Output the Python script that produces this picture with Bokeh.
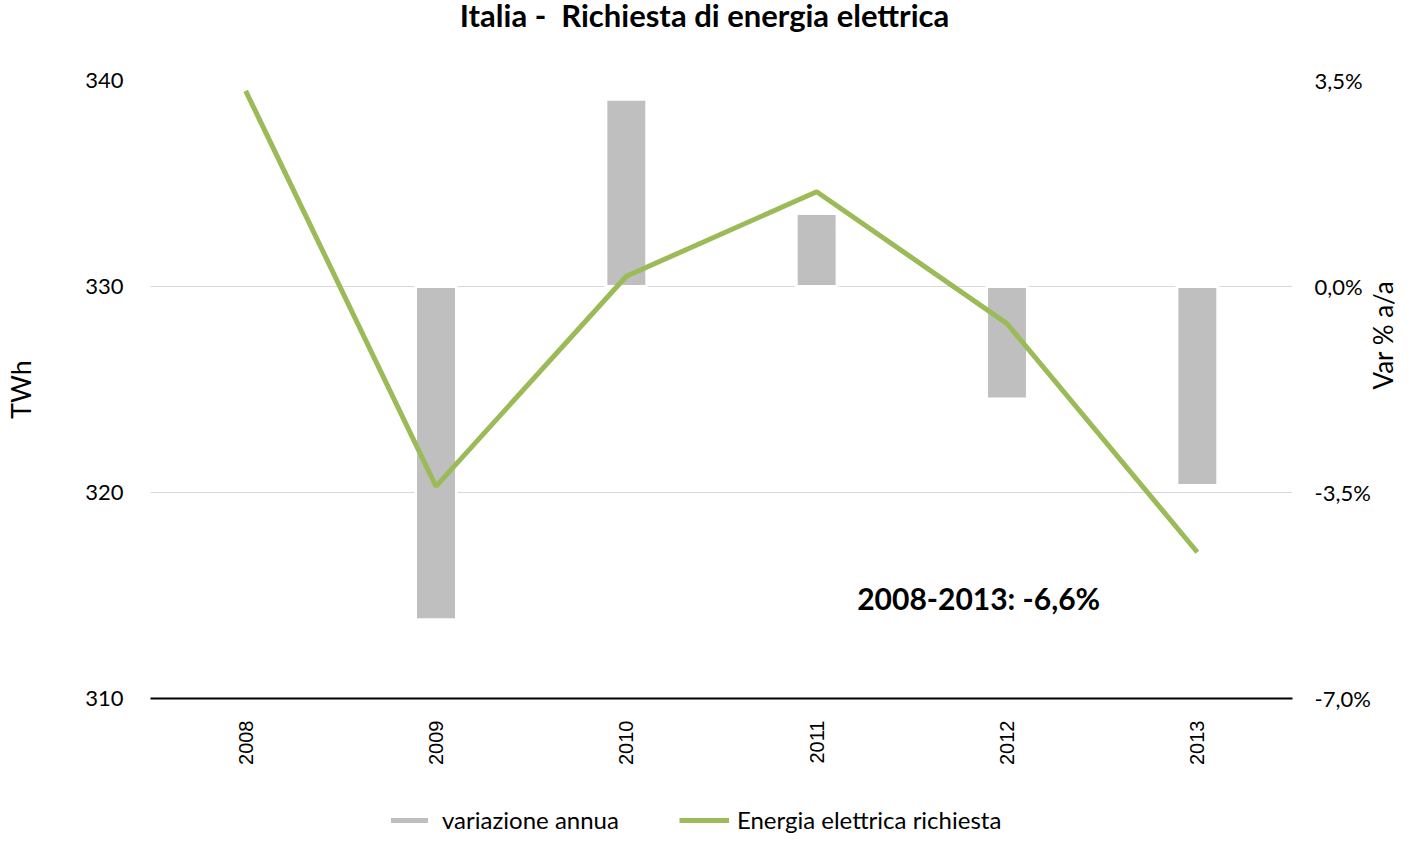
from math import pi
from bokeh.plotting import figure
from bokeh.layouts import column
from bokeh.models import Range1d, LinearAxis, FixedTicker, Legend, LegendItem, Label, Div
from bokeh.embed import file_html
from bokeh.resources import INLINE

years = ["2008", "2009", "2010", "2011", "2012", "2013"]
energia = [339.5, 320.3, 330.5, 334.6, 328.2, 317.1]
var_years = ["2009", "2010", "2011", "2012", "2013"]
variazione = [-5.66, 3.18, 1.24, -1.91, -3.38]
twh_ticks = [310, 320, 330, 340]
pct_ticks = [-7.0, -3.5, 0.0, 3.5]
pct_labels = ["-7,0%", "-3,5%", "0,0%", "3,5%"]
title_text = "Italia -  Richiesta di energia elettrica"
note_text = "2008-2013: -6,6%"
right_label_text = "Var % a/a"
legend_labels = ["variazione annua", "Energia elettrica richiesta"]

FONT = "Lato"
BAR_COLOR = "#BFBFBF"
LINE_COLOR = "#9BBB59"

title_div = Div(text=title_text, width=1409, height=40, margin=0,
                styles={"font-family": FONT, "font-size": "31px", "font-weight": "bold",
                        "text-align": "center", "line-height": "30px", "color": "black",
                        "white-space": "pre", "width": "1409px"})

p = figure(frame_width=1142, frame_height=618, x_range=years, y_range=Range1d(310, 340),
           output_backend="svg", toolbar_location=None,
           min_border_left=150, min_border_right=117,
           min_border_top=40, min_border_bottom=105, margin=0)
p.outline_line_color = None
p.background_fill_color = "white"
p.border_fill_color = "white"

p.extra_y_ranges = {"pct": Range1d(-7.0, 3.5)}

# grid
p.xgrid.visible = False
p.ygrid.ticker = FixedTicker(ticks=twh_ticks)
p.ygrid.grid_line_color = "#D9D9D9"
p.ygrid.grid_line_width = 1

# left axis
ly = p.yaxis[0]
ly.ticker = FixedTicker(ticks=twh_ticks)
ly.axis_line_color = None
ly.major_tick_line_color = None
ly.minor_tick_line_color = None
ly.major_label_text_font = FONT
ly.major_label_text_font_size = "22px"
ly.major_label_text_color = "black"
ly.major_label_standoff = 21
ly.axis_label = "TWh"
ly.axis_label_text_font = FONT
ly.axis_label_text_font_size = "27px"
ly.axis_label_text_font_style = "normal"
ly.axis_label_text_color = "black"
ly.axis_label_standoff = 45

# right axis
ry = LinearAxis(y_range_name="pct", ticker=FixedTicker(ticks=pct_ticks))
ry.major_label_overrides = {t: l for t, l in zip(pct_ticks, pct_labels)}
ry.axis_line_color = None
ry.major_tick_line_color = None
ry.minor_tick_line_color = None
ry.major_label_text_font = FONT
ry.major_label_text_font_size = "22px"
ry.major_label_text_color = "black"
ry.major_label_standoff = 16
ry.axis_label = right_label_text
ry.axis_label_text_font = FONT
ry.axis_label_text_font_size = "26px"
ry.axis_label_text_font_style = "normal"
ry.axis_label_text_color = "black"
ry.axis_label_standoff = 9
if "axis_label_orientation" in ry.properties():
    ry.axis_label_orientation = pi / 2
p.add_layout(ry, "right")

# bottom axis
bx = p.xaxis[0]
bx.axis_line_color = "black"
bx.axis_line_width = 2
bx.major_tick_line_color = None
bx.minor_tick_line_color = None
bx.major_label_orientation = pi / 2
bx.major_label_text_font = "Liberation Sans"
bx.major_label_text_font_size = "20px"
bx.major_label_text_color = "black"
bx.major_label_standoff = 16

bars = p.vbar(x=var_years, top=variazione, bottom=0, width=0.215, y_range_name="pct",
              fill_color=BAR_COLOR, line_color="white", line_width=3)
line = p.line(x=years, y=energia, line_width=5, line_color=LINE_COLOR)

note = Label(x=3.713, y=314.9, text=note_text, text_font=FONT, text_font_size="30px",
             text_font_style="bold", text_baseline="middle", text_color="black")
p.add_layout(note)

# legend strip below the chart (sample glyphs kept outside its visible range)
lf = figure(width=1409, height=32, x_range=Range1d(0, 1), y_range=Range1d(0, 1),
            output_backend="svg", toolbar_location=None, min_border=0, margin=0)
lf.axis.visible = False
lf.grid.visible = False
lf.outline_line_color = None
lg_bar = lf.vbar(x=[2], top=[3], bottom=[2], width=0.1,
                 fill_color=BAR_COLOR, line_color="white", line_width=3)
lg_line = lf.line(x=[2, 3], y=[2, 2], line_width=5, line_color=LINE_COLOR)
legend = Legend(items=[LegendItem(label=legend_labels[0], renderers=[lg_bar]),
                       LegendItem(label=legend_labels[1], renderers=[lg_line])],
                orientation="horizontal", location=(234, 1),
                label_text_font=FONT, label_text_font_size="24px",
                label_text_color="black",
                glyph_width=50, glyph_height=10, spacing=60,
                border_line_color=None, background_fill_alpha=0,
                margin=0, padding=0, label_standoff=8)
lf.add_layout(legend)

layout = column(title_div, p, lf, spacing=0, margin=0)
open("out.html", "w").write(file_html(layout, INLINE))
